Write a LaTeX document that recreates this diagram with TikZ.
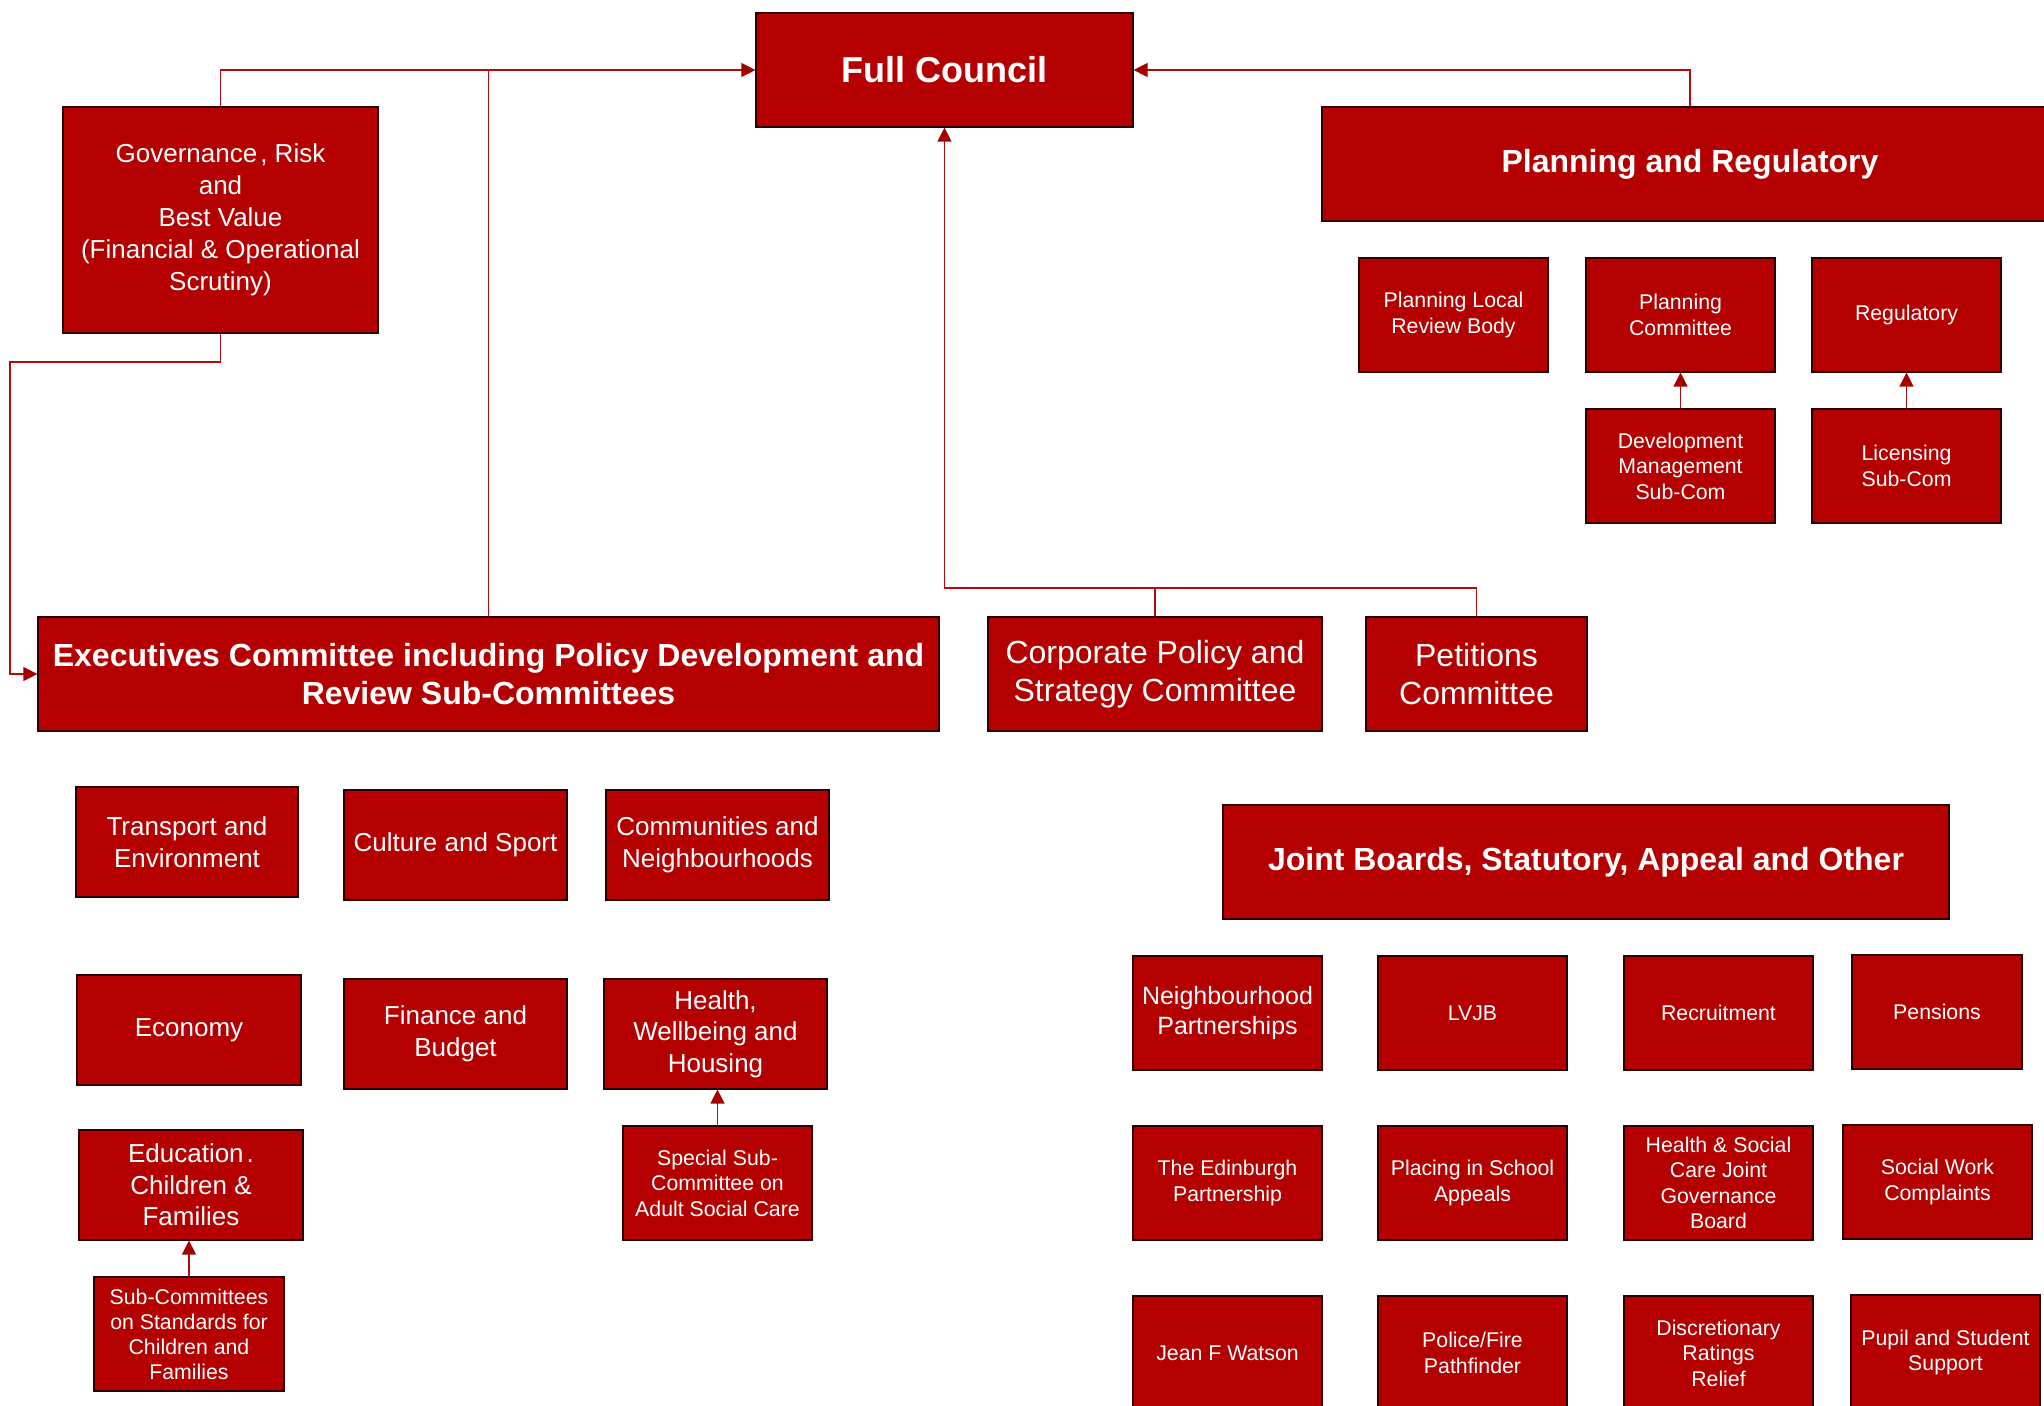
\documentclass[tikz,border=0pt]{standalone}
\usepackage{fontspec}
\setmainfont{Liberation Sans}
\usetikzlibrary{arrows.meta}
\definecolor{boxred}{RGB}{180,0,0}
\definecolor{boxedge}{RGB}{45,0,0}
\definecolor{linered}{RGB}{185,10,10}
\definecolor{tipred}{RGB}{165,0,0}
\tikzset{
  orgbox/.style={rectangle, fill=boxred, draw=boxedge, line width=1.2pt, text=white, inner sep=0pt, align=center},
  conn/.style={draw=linered, line width=1.3pt},
  tip/.style={-{Triangle[length=14pt,width=14pt,color=tipred]}},
  fbig/.style={font=\bfseries\fontsize{36}{43}\selectfont},
  fbold/.style={font=\bfseries\fontsize{32}{38}\selectfont},
  flarge/.style={font=\fontsize{32}{38}\selectfont},
  fmed/.style={font=\fontsize{26}{31.5}\selectfont},
  fnb/.style={font=\fontsize{25}{30}\selectfont},
  fsmall/.style={font=\fontsize{21.3}{25.5}\selectfont},
}
% \bx{name}{x1}{y1}{x2}{y2}{style}{text}
\newcommand{\bx}[7]{%
  \pgfmathsetmacro{\bw}{#4-#2}\pgfmathsetmacro{\bh}{#5-#3}%
  \node[orgbox,#6,minimum width=\bw pt,minimum height=\bh pt] (#1) at ({(#2+#4)/2},{(#3+#5)/2}) {#7};}
\begin{document}
\begin{tikzpicture}[x=1pt,y=-1pt]
\useasboundingbox (0,0) rectangle (2044,1405);
\clip (0,0) rectangle (2044,1405);
\fill[white] (0,0) rectangle (2044,1405);

% top level
\bx{fc}{756}{13}{1133}{127}{fbig}{\raisebox{2pt}{Full Council}}
\bx{gov}{63}{107}{378}{333}{fmed}{Governance\kern3pt, Risk\\[0.5pt]and\\[0.5pt]Best Value\\[0.5pt](Financial \& Operational\\[0.5pt]Scrutiny)}
\bx{plan}{1322}{107}{2058}{221}{fbold}{\raisebox{-2pt}{Planning and Regulatory}}

% planning sub-boxes
\bx{plr}{1359}{258}{1548}{372}{fsmall}{Planning Local\\Review Body}
\bx{pc}{1586}{258}{1775}{372}{fsmall}{Planning\\Committee}
\bx{reg}{1812}{258}{2001}{372}{fsmall}{Regulatory}
\bx{dev}{1586}{409}{1775}{523}{fsmall}{Development\\Management\\Sub-Com}
\bx{lic}{1812}{409}{2001}{523}{fsmall}{Licensing\\Sub-Com}

% second level
\bx{exec}{38}{617}{939}{731}{fbold}{Executives Committee including Policy Development and\\Review Sub-Committees}
\bx{corp}{988}{617}{1322}{731}{flarge}{Corporate Policy and\\Strategy Committee}
\bx{pet}{1366}{617}{1587}{731}{flarge}{Petitions\\Committee}

% executive sub-committees
\bx{trans}{76}{787}{298}{897}{fmed}{Transport and\\Environment}
\bx{cult}{344}{790}{567}{900}{fmed}{Culture and Sport}
\bx{comm}{606}{790}{829}{900}{fmed}{Communities and\\Neighbourhoods}
\bx{econ}{77}{975}{301}{1085}{fmed}{Economy}
\bx{fin}{344}{979}{567}{1089}{fmed}{Finance and\\Budget}
\bx{hwh}{604}{979}{827}{1089}{fmed}{Health,\\Wellbeing and\\Housing}
\bx{edu}{79}{1130}{303}{1240}{fmed}{Education\kern3pt.\\Children \&\\Families}
\bx{subc}{94}{1277}{284}{1391}{fsmall}{Sub-Committees\\[-0.5pt]on Standards for\\[-0.5pt]Children and\\[-0.5pt]Families}
\bx{spec}{623}{1126}{812}{1240}{fsmall}{Special Sub-\\Committee on\\Adult Social Care}

% joint boards
\bx{joint}{1223}{805}{1949}{919}{fbold}{Joint Boards, Statutory, Appeal and Other}
\bx{nbh}{1133}{956}{1322}{1070}{fnb}{Neighbourhood\\Partnerships}
\bx{lvjb}{1378}{956}{1567}{1070}{fsmall}{LVJB}
\bx{recr}{1624}{956}{1813}{1070}{fsmall}{Recruitment}
\bx{pens}{1852}{955}{2022}{1069}{fsmall}{Pensions}
\bx{edin}{1133}{1126}{1322}{1240}{fsmall}{The Edinburgh\\Partnership}
\bx{plac}{1378}{1126}{1567}{1240}{fsmall}{Placing in School\\Appeals}
\bx{hsc}{1624}{1126}{1813}{1240}{fsmall}{Health \& Social\\Care Joint\\Governance\\Board}
\bx{swc}{1843}{1125}{2032}{1239}{fsmall}{Social Work\\Complaints}
\bx{jean}{1133}{1296}{1322}{1410}{fsmall}{Jean F Watson}
\bx{pol}{1378}{1296}{1567}{1410}{fsmall}{Police/Fire\\Pathfinder}
\bx{disc}{1624}{1296}{1813}{1410}{fsmall}{Discretionary\\Ratings\\Relief}
\bx{pup}{1851}{1295}{2040}{1410}{fsmall}{Pupil and Student\\Support}

% connectors
\coordinate (gl) at (10,362);
\coordinate (jn) at (1155,588);
\draw[conn,tip] (gov.north) |- (fc.west);
\draw[conn] (exec.north) -- (exec.north |- fc.west);
\draw[conn,tip] (plan.north) |- (fc.east);
\draw[conn,tip] (gov.south) |- (gl) |- (exec.west);
\draw[conn,tip] (corp.north) -- (jn) -| (fc.south);
\draw[conn] (pet.north) |- (jn);
\draw[conn,tip] (dev.north) -- (pc.south);
\draw[conn,tip] (lic.north) -- (reg.south);
\draw[conn,tip] (spec.north) -- (spec.north |- hwh.south);
\draw[conn,tip] (subc.north) -- (subc.north |- edu.south);
\end{tikzpicture}
\end{document}
